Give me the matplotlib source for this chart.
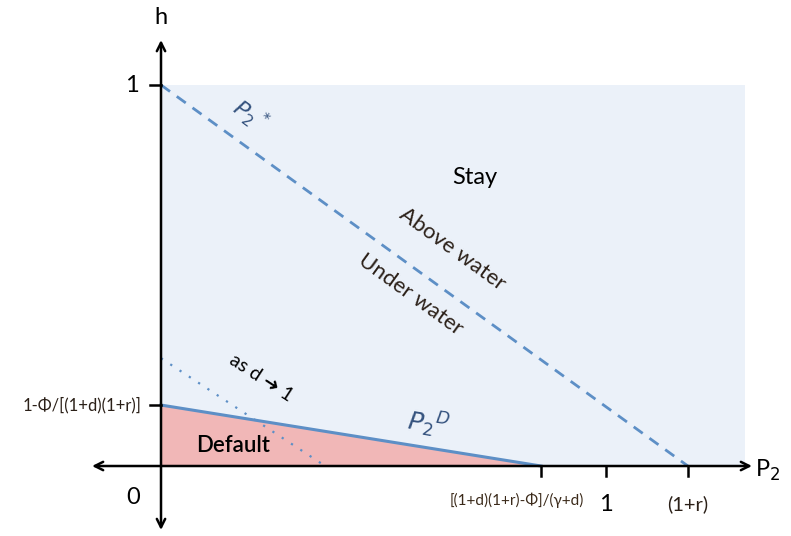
import matplotlib.pyplot as plt

plt.rcParams['font.family'] = ['Lato', 'DejaVu Sans']

# key values on the axes (units of the diagram)
p2_default = 0.854     # [(1+d)(1+r)-Phi]/(gamma+d)
p2_one = 1.0
p2_star = 1.184        # (1+r)
h_default = 0.160      # 1-Phi/[(1+d)(1+r)]
h_top = 1.0
dotted_h = 0.283       # default line as d -> 1
dotted_p = 0.369
stay_right = 1.312

x_ticks = [p2_default, p2_one, p2_star]
x_labels = ['[(1+d)(1+r)-Φ]/(γ+d)', '1', '(1+r)']

fill_blue = '#ebf1f9'
fill_red = '#f1b7b7'
line_blue = '#5d8fc6'
text_blue = '#34527e'

fig = plt.figure(figsize=(7.91, 5.36), dpi=100)
ax = fig.add_axes([0, 0, 1, 1])
ax.set_xlim(-0.3618, 1.4157)
ax.set_ylim(-0.1837, 1.2231)
ax.axis('off')

# regions
ax.fill([0, stay_right, stay_right, 0], [0, 0, h_top, h_top], color=fill_blue, lw=0, zorder=0)
ax.fill([0, p2_default, 0], [0, 0, h_default], color=fill_red, lw=0, zorder=1)

# lines
ax.plot([0, p2_star], [h_top, 0], ls=(0, (4, 3)), color=line_blue, lw=2, zorder=2)
ax.plot([0, p2_default], [h_default, 0], color=line_blue, lw=2.2, zorder=2)
ax.plot([0, dotted_p], [dotted_h, 0], ls=(0, (1, 4)), color=line_blue, lw=1.6, zorder=2)

# axes arrows
arrow = dict(arrowstyle='<->,head_length=0.6,head_width=0.3', color='black', lw=1.8,
             shrinkA=0, shrinkB=0)
ax.annotate('', xy=(1.328, 0), xytext=(-0.155, 0), arrowprops=arrow, zorder=3)
ax.annotate('', xy=(0, 1.118), xytext=(0, -0.168), arrowprops=arrow, zorder=3)

# ticks
for xv in x_ticks:
    ax.plot([xv, xv], [0, -0.027], color='black', lw=1.8, zorder=3)
for yv in [h_default, h_top]:
    ax.plot([0, -0.025], [yv, yv], color='black', lw=1.8, zorder=3)

# tick labels
ax.text(p2_default - 0.055, -0.09, x_labels[0], fontsize=11, ha='center', va='center', color='#3b2a1a')
ax.text(p2_one, -0.1, x_labels[1], fontsize=17, ha='center', va='center')
ax.text(p2_star, -0.1, x_labels[2], fontsize=14.5, ha='center', va='center', color='#2b2018')
ax.text(-0.045, h_default, '1-Φ/[(1+d)(1+r)]', fontsize=12, ha='right', va='center', color='#2b2018')
ax.text(-0.065, h_top, '1', fontsize=17, ha='center', va='center')
ax.text(-0.063, -0.083, '0', fontsize=17, ha='center', va='center')
ax.text(0, 1.176, 'h', fontsize=17, ha='center', va='center')
ax.text(1.335, -0.012, r'P$_2$', fontsize=17, ha='left', va='center')

# region labels
ax.text(0.706, 0.757, 'Stay', fontsize=17, ha='center', va='center')
ax.text(0.655, 0.57, 'Above water', fontsize=16, rotation=-36, ha='center', va='center', color='#2b2018')
ax.text(0.56, 0.45, 'Under water', fontsize=16, rotation=-36, ha='center', va='center', color='#2b2018')
ax.text(0.163, 0.053, 'Default', fontsize=16, ha='center', va='center', fontweight='semibold')
ax.text(0.2, 0.92, r'$P_2{}^*$', fontsize=16, rotation=-36, ha='center', va='center', color=text_blue)
ax.text(0.6, 0.112, r'$P_2{}^D$', fontsize=18, rotation=-9, ha='center', va='center', color=text_blue)
ax.text(0.225, 0.23, 'as d ➜ 1', fontsize=14, rotation=-33, ha='center', va='center')

fig.savefig('out.png', dpi=100)
